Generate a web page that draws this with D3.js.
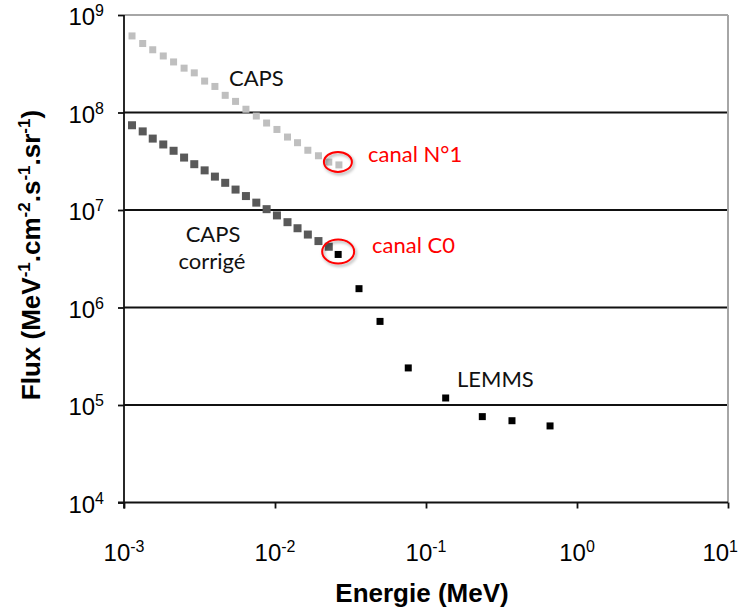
<!DOCTYPE html>
<html><head><meta charset="utf-8">
<script src="https://cdn.jsdelivr.net/npm/d3@7"></script>
<style>body{margin:0;background:#fff}svg{display:block}</style>
</head><body>
<svg id="c" width="740" height="608"></svg>
<script>
// ---- data ----
const capsEnergy = [0.00113,0.00133,0.00155,0.00182,0.00213,0.00250,0.00292,0.00342,0.00400,0.00468,0.00548,0.00642,0.00752,0.00880,0.0103,0.0121,0.0141,0.0165,0.0194,0.0227,0.0265];
const capsFlux = [6.1e8,5.1e8,4.4e8,3.8e8,3.3e8,2.85e8,2.55e8,2.1e8,1.85e8,1.5e8,1.3e8,1.08e8,9.2e7,7.8e7,6.7e7,5.6e7,4.9e7,4.1e7,3.6e7,3.1e7,2.9e7];
const capsCorrFlux = [7.4e7,6.4e7,5.4e7,4.7e7,4.05e7,3.45e7,2.95e7,2.55e7,2.2e7,1.9e7,1.62e7,1.39e7,1.19e7,1.02e7,8.8e6,7.5e6,6.5e6,5.6e6,4.8e6,4.2e6];
const lemmsEnergy = [0.0262,0.0360,0.0496,0.0763,0.135,0.236,0.371,0.663];
const lemmsFlux = [3.5e6,1.56e6,7.2e5,2.4e5,1.18e5,7.6e4,6.9e4,6.1e4];
const xTickExps = [-3,-2,-1,0,1];
const yTickExps = [4,5,6,7,8,9];

const svg = d3.select("#c");
const L=124, R=728, T=15, B=502.5;
const x = d3.scaleLog().domain([1e-3,1e1]).range([L,R]);
const y = d3.scaleLog().domain([1e4,1e9]).range([B,T]);

const defs = svg.append("defs");
const f = defs.append("filter").attr("id","sh").attr("x","-50%").attr("y","-50%").attr("width","200%").attr("height","200%");
f.append("feDropShadow").attr("dx",1.5).attr("dy",2).attr("stdDeviation",1.5).attr("flood-color","#000").attr("flood-opacity",0.35);

// gridlines
svg.append("g").selectAll("line").data(yTickExps.filter(e=>e>4 && e<9)).join("line")
  .attr("x1",L).attr("x2",R).attr("y1",e=>y(Math.pow(10,e))).attr("y2",e=>y(Math.pow(10,e)))
  .attr("stroke","#111").attr("stroke-width",1.8);
// top & right border (gray)
svg.append("line").attr("x1",L).attr("x2",R).attr("y1",T).attr("y2",T).attr("stroke","#a6a6a6").attr("stroke-width",2);
svg.append("line").attr("x1",R).attr("x2",R).attr("y1",T).attr("y2",B).attr("stroke","#a6a6a6").attr("stroke-width",2);

// axes
const xAxis = d3.axisBottom(x).tickValues(xTickExps.map(e=>Math.pow(10,e))).tickSize(6).tickSizeOuter(0).tickFormat("");
const gx = svg.append("g").attr("transform",`translate(0,${B})`).call(xAxis);
gx.select(".domain").attr("stroke","#111").attr("stroke-width",1.8).attr("d",`M${L-6},0H${R}`);
gx.selectAll(".tick line").attr("stroke","#111").attr("stroke-width",1.8);
const yAxis = d3.axisLeft(y).tickValues(yTickExps.map(e=>Math.pow(10,e))).tickSize(6).tickSizeOuter(0).tickFormat("");
const gy = svg.append("g").attr("transform",`translate(${L},0)`).call(yAxis);
gy.select(".domain").attr("stroke","#111").attr("stroke-width",1.8).attr("d",`M0,${T}V${B+6}`);
gy.selectAll(".tick line").attr("stroke","#111").attr("stroke-width",1.8);

const tickFont = "'Liberation Sans', Arial, sans-serif";
// x tick labels
xTickExps.forEach((e,i)=>{
  const last = i===xTickExps.length-1;
  const t = svg.append("text").attr("x", last ? 738 : x(Math.pow(10,e))).attr("y",561)
    .attr("text-anchor", last ? "end" : "middle")
    .attr("font-family",tickFont).attr("font-size",24).attr("fill","#000");
  t.append("tspan").text("10");
  t.append("tspan").attr("dy",-9).attr("font-size",16).text(String(e));
});
// y tick labels
yTickExps.forEach(e=>{
  const t = svg.append("text").attr("x",104).attr("y",y(Math.pow(10,e))+10).attr("text-anchor","end")
    .attr("font-family",tickFont).attr("font-size",24).attr("fill","#000");
  t.append("tspan").text("10");
  t.append("tspan").attr("dy",-9).attr("font-size",16).text(String(e));
});

// axis titles
svg.append("text").attr("x",(L+R)/2 - 4).attr("y",602).attr("text-anchor","middle")
  .attr("font-family",tickFont).attr("font-weight","bold").attr("font-size",26).text("Energie (MeV)");
const yt = svg.append("text").attr("transform","translate(40,255) rotate(-90)").attr("text-anchor","middle")
  .attr("font-family",tickFont).attr("font-weight","bold").attr("font-size",26);
[["Flux (MeV",0],["-1",1],[".cm",0],["-2",1],[".s",0],["-1",1],[".sr",0],["-1",1],[")",0]].forEach(([s,sup],i,arr)=>{
  const prev = i>0 ? arr[i-1][1] : 0;
  const dy = sup && !prev ? -10 : (!sup && prev ? 10 : 0);
  yt.append("tspan").attr("dy",dy).attr("font-size",sup?17:26).text(s);
});

// series
function squares(ex, fl, size, color){
  svg.append("g").selectAll("rect").data(fl.map((v,i)=>[ex[i],v])).join("rect")
    .attr("x",d=>x(d[0])-size/2).attr("y",d=>y(d[1])-size/2)
    .attr("width",size).attr("height",size).attr("fill",color);
}
squares(capsEnergy, capsFlux, 7, "#bfbfbf");
squares(capsEnergy.slice(0,capsCorrFlux.length), capsCorrFlux, 8, "#595959");
squares(lemmsEnergy, lemmsFlux, 7, "#000");

// red circles
svg.append("ellipse").attr("cx",x(capsEnergy[20])-1).attr("cy",y(capsFlux[20])-3).attr("rx",14).attr("ry",10)
  .attr("fill","none").attr("stroke","#ff0000").attr("stroke-width",2).attr("filter","url(#sh)");
svg.append("ellipse").attr("cx",x(lemmsEnergy[0])).attr("cy",y(lemmsFlux[0])-3).attr("rx",16).attr("ry",12)
  .attr("fill","none").attr("stroke","#ff0000").attr("stroke-width",2).attr("filter","url(#sh)");

// annotations
const annFont = "Lato, 'Open Sans', sans-serif";
const ann = (txt,xx,yy,anchor,color)=>svg.append("text").attr("x",xx).attr("y",yy).attr("text-anchor",anchor)
  .attr("font-family",annFont).attr("font-size",22).attr("fill",color).text(txt);
ann("CAPS",229,86,"start","#111");
ann("canal N°1",368,162,"start","#ff0000");
ann("canal C0",372,253,"start","#ff0000");
ann("CAPS",213,242,"middle","#111");
ann("corrigé",212,269,"middle","#111");
ann("LEMMS",457,387,"start","#111");
</script>
</body></html>
